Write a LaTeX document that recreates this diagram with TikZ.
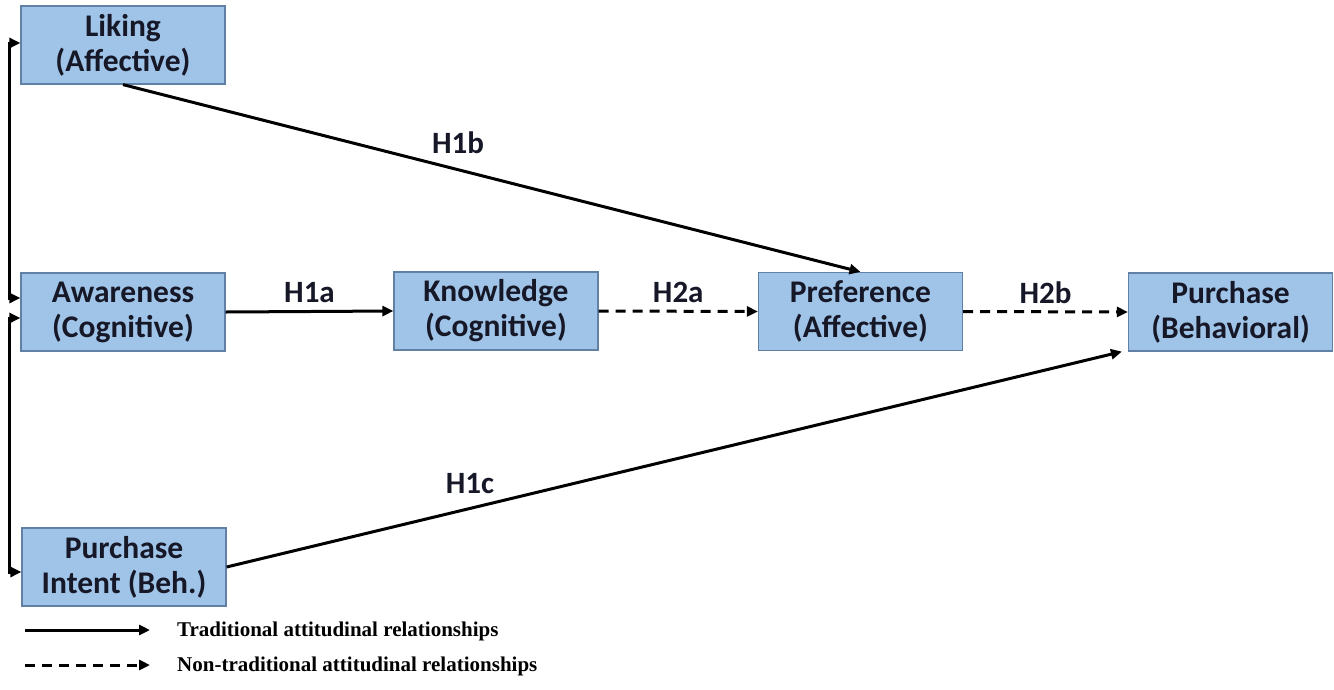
\documentclass[tikz,border=0pt]{standalone}
\usepackage{fontspec}
\setmainfont{Carlito}
\newfontfamily\legfont{Liberation Serif}
\usetikzlibrary{arrows.meta}
\definecolor{boxfill}{RGB}{160,196,231}
\definecolor{boxline}{RGB}{96,128,165}
\definecolor{boxtext}{RGB}{22,24,40}
\begin{document}
\begin{tikzpicture}[x=1pt,y=-1pt,
  box/.style={draw=boxline, line width=1.2pt, fill=boxfill, minimum width=204pt, minimum height=78pt,
    inner sep=0pt, align=center, text=boxtext, font=\fontsize{31.5}{35}\selectfont\bfseries},
  lab/.style={font=\fontsize{31}{35}\selectfont\bfseries, text=boxtext, inner sep=0pt},
  conn/.style={line width=3pt, -{Triangle[length=11pt,width=10pt]}},
  bconn/.style={line width=3pt, {Triangle[length=11pt,width=10pt]}-{Triangle[length=11pt,width=10pt]}},
  dsh/.style={dash pattern=on 10pt off 7pt},
  legtext/.style={anchor=west, inner sep=0pt, font=\legfont\fontsize{21}{24}\selectfont\bfseries}]
\useasboundingbox (0,0) rectangle (1334,689);
\node[box] (liking) at (123,45) {Liking\\(Affective)};
\node[box] (aware) at (123,312) {Awareness\\(Cognitive)};
\node[box] (know) at (496,311) {Knowledge\\(Cognitive)};
\node[box] (pref) at (860.5,311.5) {Preference\\(Affective)};
\node[box] (purch) at (1230.5,312) {Purchase\\(Behavioral)};
\node[box] (intent) at (124,567) {Purchase\\Intent (Beh.)};

\draw[conn] (aware.east) -- (know.west) node[lab, midway, above=7pt] (h1a) {H1a};
\draw[conn, dsh] (know.east) -- (pref.west) node[lab, midway, above=7pt] (h2a) {H2a};
\draw[conn, dsh] (pref.east) -- (purch.west) node[lab, midway, above=7pt] (h2b) {H2b};
\draw[conn] (liking.south) -- (pref.north);
\node[lab] (h1b) at (458,143) {H1b};
\draw[conn] (intent.east) -- ([xshift=-6pt]purch.south west);
\node[lab] (h1c) at (470,484) {H1c};

\draw[bconn] ([yshift=2pt]liking.west) -- ++(-11,0) |- ([yshift=14pt]aware.west);
\draw[bconn] ([yshift=-6pt]aware.west) -- ++(-11,0) |- ([yshift=-5pt]intent.west);

\coordinate (l1a) at (25,630);
\coordinate (l1b) at (150,630);
\coordinate (l2a) at (25,665);
\coordinate (l2b) at (150,665);
\draw[conn] (l1a) -- (l1b);
\draw[conn, dsh] (l2a) -- (l2b);
\node[legtext] (t1) at (177,631) {Traditional attitudinal relationships};
\node[legtext] (t2) at (177,666) {Non-traditional attitudinal relationships};
\end{tikzpicture}
\end{document}
